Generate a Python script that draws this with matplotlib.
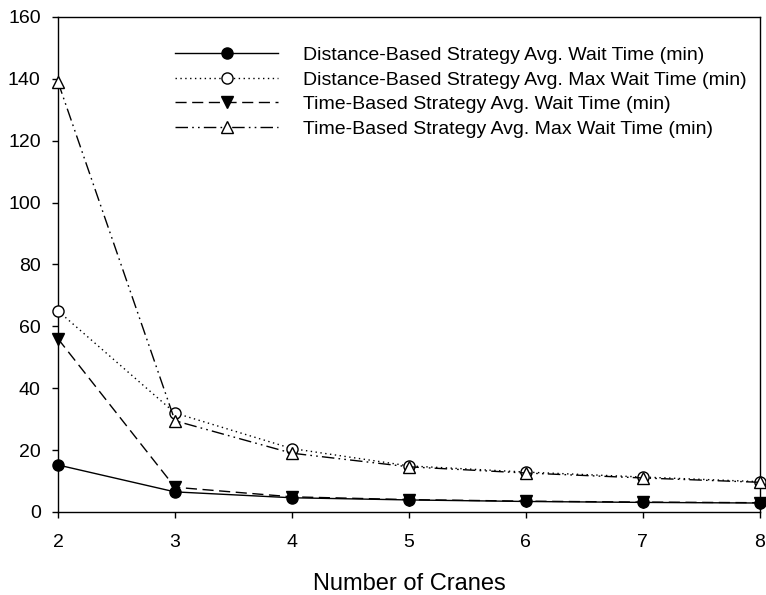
import numpy as np
import matplotlib.pyplot as plt

plt.rcParams['font.family'] = ['Liberation Sans', 'DejaVu Sans']

cranes = [2, 3, 4, 5, 6, 7, 8]
dist_avg = [15.2, 6.5, 4.6, 3.9, 3.4, 3.1, 2.9]
dist_max = [65.0, 32.0, 20.5, 14.9, 12.9, 11.3, 9.8]
time_avg = [56.0, 8.0, 4.9, 4.0, 3.5, 3.2, 3.0]
time_max = [139.0, 29.5, 19.0, 14.6, 12.6, 11.0, 9.6]

labels = [
    'Distance-Based Strategy Avg. Wait Time (min)',
    'Distance-Based Strategy Avg. Max Wait Time (min)',
    'Time-Based Strategy Avg. Wait Time (min)',
    'Time-Based Strategy Avg. Max Wait Time (min)',
]

fig = plt.figure(figsize=(7.66, 5.95), dpi=100)
ax = fig.add_axes([0.0757, 0.1395, 0.9163, 0.832])

ms = 8
ax.plot(cranes, dist_avg, color='k', lw=1.0, ls='-', marker='o',
        ms=ms, mfc='k', mec='k', label=labels[0], clip_on=False, zorder=4)
ax.plot(cranes, dist_max, color='k', lw=1.0, ls=(0, (1, 2.5)), marker='o',
        ms=ms, mfc='white', mec='k', label=labels[1], clip_on=False, zorder=3)
ax.plot(cranes, time_avg, color='k', lw=1.0, ls=(0, (8, 4)), marker='v',
        ms=ms, mfc='k', mec='k', label=labels[2], clip_on=False, zorder=3)
ax.plot(cranes, time_max, color='k', lw=1.0, ls=(0, (9, 3, 1.2, 3, 1.2, 3)),
        marker='^', ms=ms, mfc='white', mec='k', label=labels[3],
        clip_on=False, zorder=3)

ax.set_xlim(2, 8)
ax.set_ylim(0, 160)
ax.set_xticks(cranes)
ax.set_yticks(np.arange(0, 161, 20))
ax.tick_params(direction='out', length=4.5, width=1, labelsize=14)
ax.tick_params(axis='x', pad=11)
ax.tick_params(axis='y', pad=8)
for s in ax.spines.values():
    s.set_linewidth(1.0)

ax.set_xlabel('Number of Cranes', fontsize=17, labelpad=16)

ax.legend(loc='upper left', bbox_to_anchor=(0.167, 0.94), frameon=False,
          fontsize=14, handlelength=5.3, handletextpad=1.25, borderpad=0,
          borderaxespad=0, labelspacing=0.35)

fig.savefig('out.png', dpi=100)
